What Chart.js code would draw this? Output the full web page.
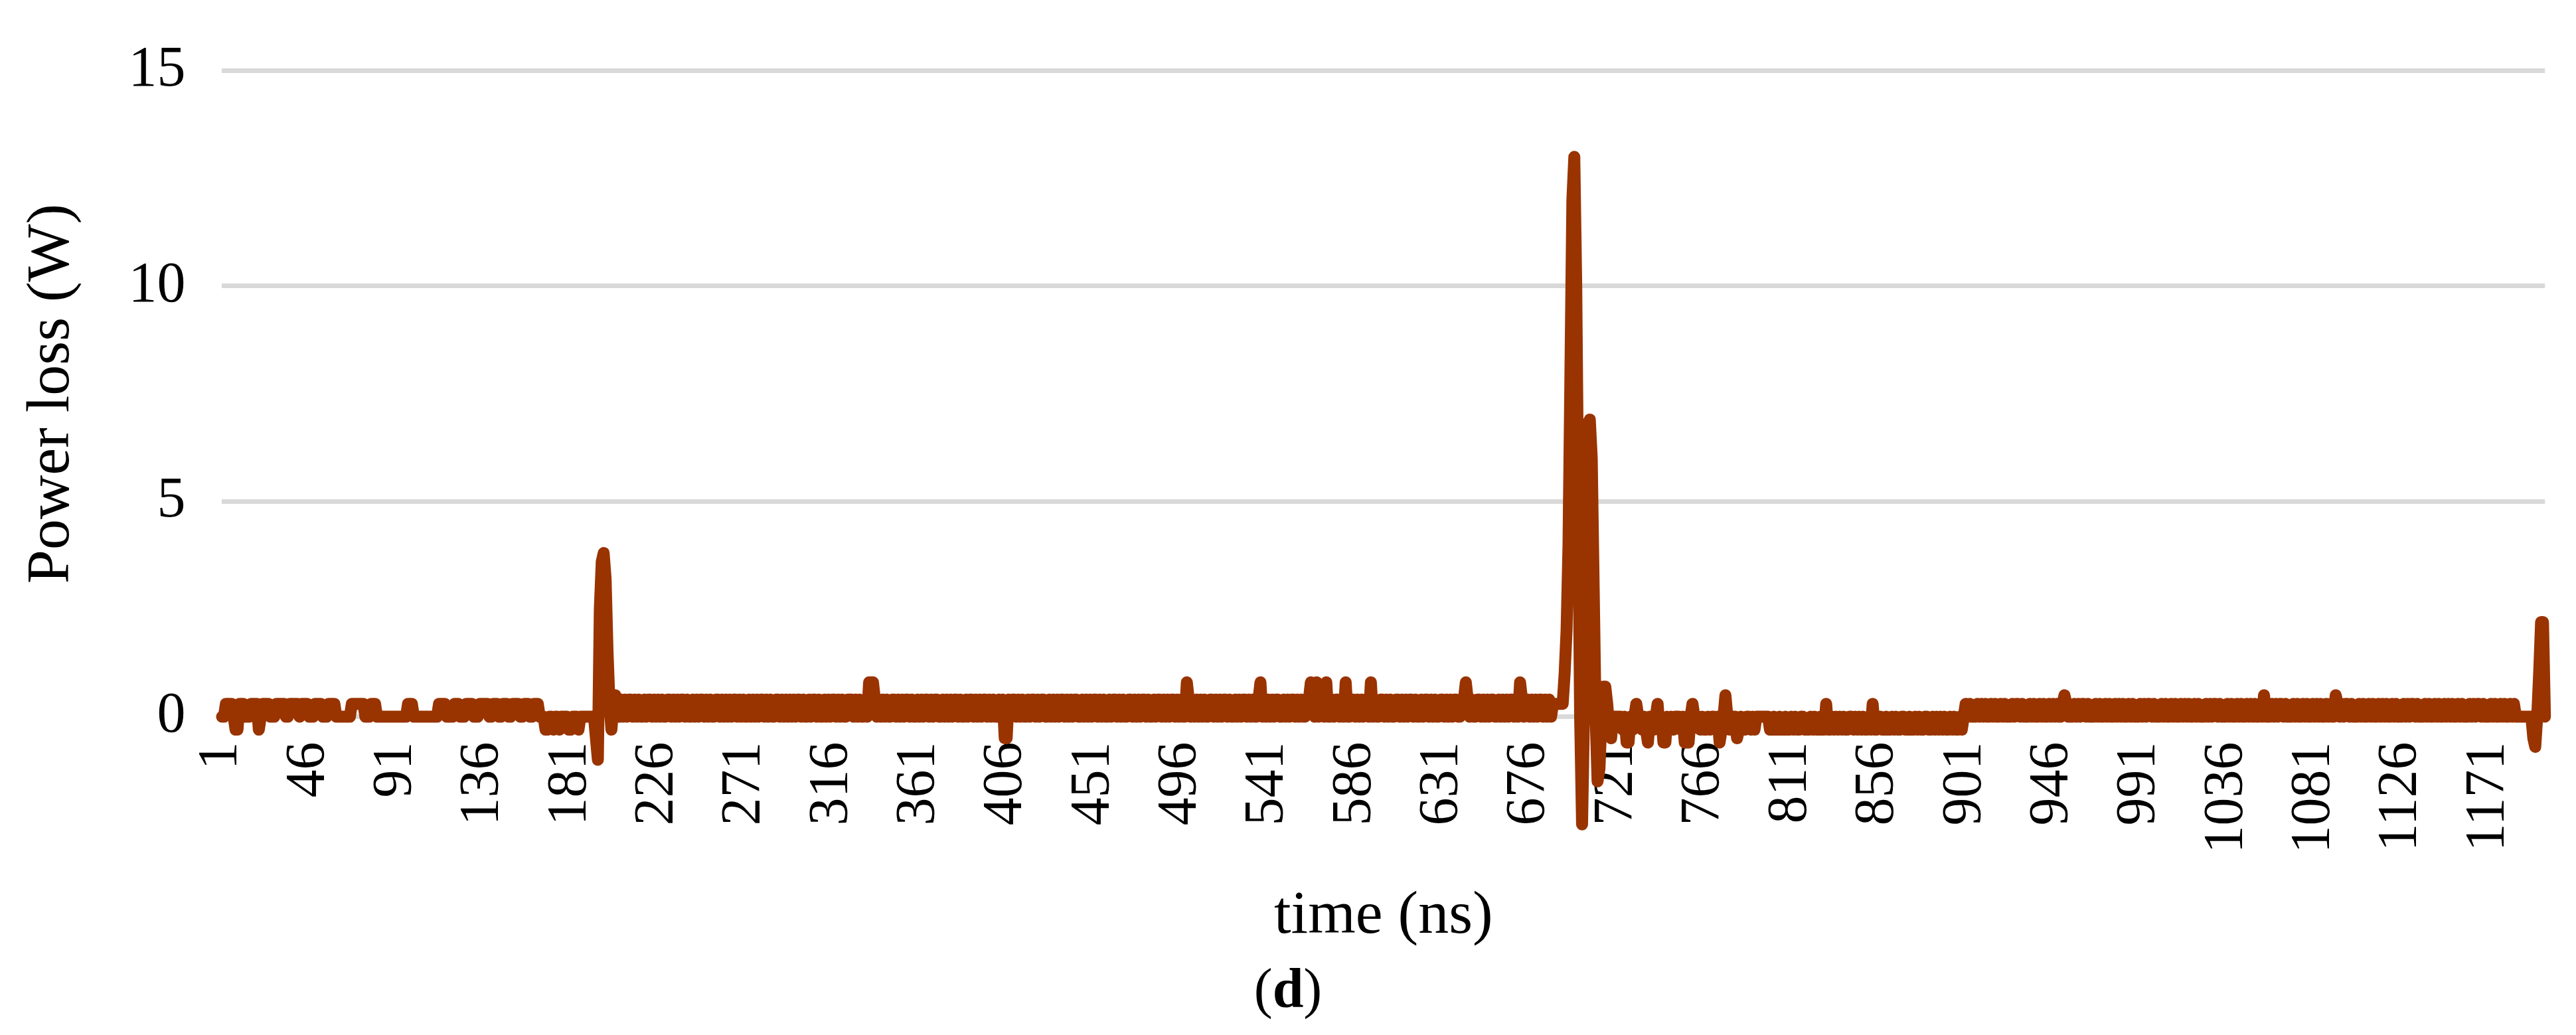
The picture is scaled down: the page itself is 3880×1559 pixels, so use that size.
<!DOCTYPE html>
<html><head><meta charset="utf-8">
<script src="https://cdn.jsdelivr.net/npm/chart.js@4"></script>
<style>
html,body{margin:0;padding:0;background:#fff;width:3880px;height:1559px;overflow:hidden}
#wrap{position:absolute;left:0;top:0;width:3880px;height:1440px}
#cap{position:absolute;left:0;width:3880px;top:1440px;text-align:center;font-family:"Liberation Serif",serif;font-size:84px;color:#000}
</style></head><body>
<div id="wrap"><canvas id="c"></canvas></div>
<div id="cap">(<b>d</b>)</div>
<script>
// hand-read data
const N = 1200;
const levels = {'0':0,'1':0.3,'2':0.4,'n':-0.3,'m':-0.6};
const noiseSegments = [
 [1,   "0011110nn1110001111n0111100011111001111101111000111100011110000000011111110001110000000000000000111000000000000011110000111000111100011111000n0000n000000000n00n0"],
 [140, "0111001110011110011100111000nn00n00n0000nn000n0000"],
 [206, "0202022020200202202020200220202022020020202202020022020202022020200202020220202002202020202022020020"+
       "2202002020220202002220202002020220202020022020202202002020220202200202020220200202202020220202002020"+
       "0202202020020220202200202020220202022002020202202020020220202002202020220200202202020220202002202020"+
       "2020022020202202002020220202002202020202200202022020200220202022020020220202002202020220202002202020"+
       "02202020220200202202020022020202202002020220202200"],
 [640, "02202020022020202200202020220200202202020220202002"],
 [723, "0n0mm0n0100n0nm00n01n0mm0n0n000n0m0n01000n0nn0n00n0mn0n0n0000n0nn00n0n0"],
 [800, "nn0nn0nn0nn0n0nn00nnn0n0nn0nn1nn0n0n0n0nn00n0n0n0nn0n1nn00nn0nn0n0nn00nn0nn0n0nn00nn0n0n0n0nn0n0nn0n"+
       "0101000101010010100101000101101000101001010010101001010001010110100010100101001010100101000101011010"+
       "0010100101001010100101000101011010001010010100101010010100010101101000101001010010101001010001010110"+
       "10001010010100101010010100010101101000101001010010101001010001010110100010100101001010"]
];
const spike1Start = 194;
const spike1 = [-0.5,-1,2.5,3.6,3.8,3.2,1.5,0.3,-0.3,0.3,0.5,0.2];
const spike2Start = 688;
const spike2 = [0.3,0.3,0.3,0.3,0.3,0.3,1,2,4,8,12,13,10,5,0,-2.5,0,4,6.8,6.9,6,3,0,-1.5,-1.2,0,0.7,0.7,0.3,-0.3,-0.5,0];
const spikes = [[335,0.8],[336,0.8],[337,0.8],[405,-0.5],[406,-0.5],[499,0.8],[537,0.8],[563,0.8],[566,0.8],[571,0.8],[581,0.8],[594,0.8],[643,0.8],[671,0.8],[746,-0.6],[758,-0.6],[777,0.5],[783,-0.5],[952,0.5],[1055,0.5],[1092,0.5],[1194,-0.5],[1195,-0.7],[1196,0],[1197,1],[1198,2.2],[1199,2.2]];
const yTicks = [0,5,10,15];

const labels = [];
const values = [];
for (let i = 1; i <= N; i++) { labels.push(String(i)); values.push(0); }
noiseSegments.forEach(([s, str]) => { for (let k = 0; k < str.length && s + k <= N; k++) values[s + k - 1] = levels[str[k]]; });
spike1.forEach((v, k) => values[spike1Start + k - 1] = v);
spike2.forEach((v, k) => values[spike2Start + k - 1] = v);
spikes.forEach(([i, v]) => values[i - 1] = v);

const font = "'Liberation Serif', serif";
new Chart(document.getElementById('c'), {
  type: 'line',
  data: { labels, datasets: [{ data: values, borderColor: '#993300', borderWidth: 18, pointRadius: 0, tension: 0, clip: false, borderJoinStyle: 'round', borderCapStyle: 'round' }] },
  options: {
    responsive: true, maintainAspectRatio: false, animation: false,
    layout: { padding: { left: 20, right: 25, top: 35, bottom: 0 } },
    plugins: { legend: { display: false }, tooltip: { enabled: false } },
    scales: {
      x: {
        grid: { display: false }, border: { display: false },
        ticks: { autoSkip: false, minRotation: 90, maxRotation: 90, padding: 30, color: '#000',
          font: { family: font, size: 84 },
          callback: (v, i) => (i % 45 === 0 ? labels[i] : null) },
        title: { display: true, text: 'time (ns)', color: '#000', font: { family: font, size: 92 }, padding: { top: 10 } }
      },
      y: {
        min: 0, max: 15,
        afterBuildTicks: ax => { ax.ticks = yTicks.map(v => ({ value: v })); },
        grid: { color: '#d9d9d9', lineWidth: 7, drawTicks: false }, border: { display: false },
        ticks: { padding: 55, color: '#000', font: { family: font, size: 86 } },
        title: { display: true, text: 'Power loss (W)', color: '#000', font: { family: font, size: 92 } }
      }
    }
  }
});
</script></body></html>
